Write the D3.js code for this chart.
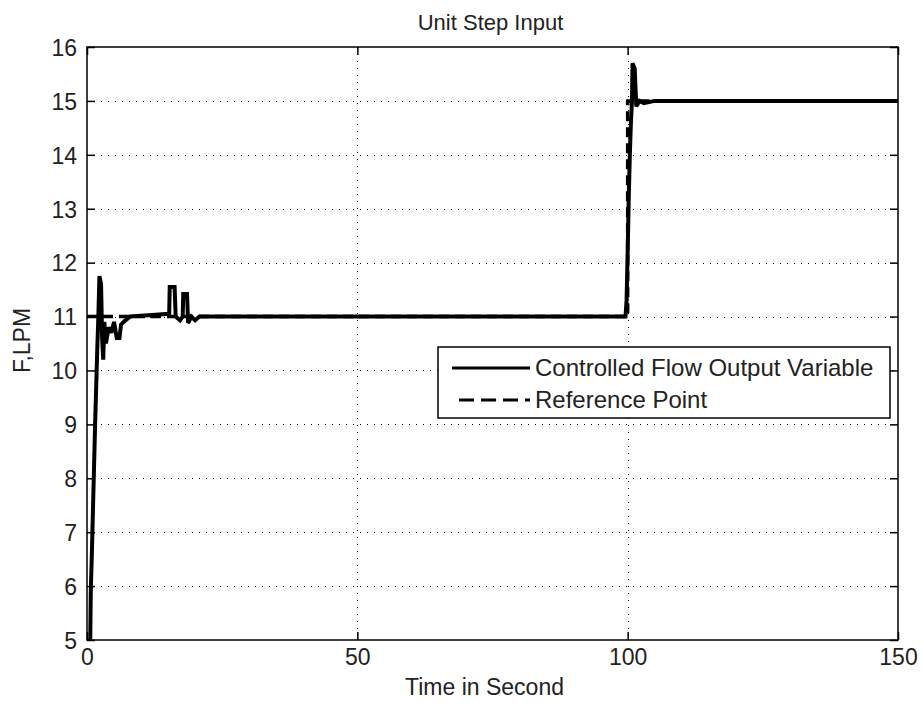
<!DOCTYPE html>
<html>
<head>
<meta charset="utf-8">
<script src="https://cdn.jsdelivr.net/npm/d3@7"></script>
<style>
  html, body { margin: 0; padding: 0; background: #fff; }
  svg { display: block; font-family: "Liberation Sans", Arial, sans-serif; }
</style>
</head>
<body>
<svg id="chart" width="922" height="703"></svg>
<script>
// Closed-loop flow response: [time (s), flow (LPM)]
const controlledFlow = [
  [0.0, 4.6], [0.6, 5.0], [0.7, 5.9], [0.9, 6.6], [1.1, 7.4], [1.3, 8.2], [1.5, 9.0],
  [1.7, 9.7], [1.9, 10.4], [2.1, 11.0], [2.3, 11.75], [2.6, 11.6], [2.8, 10.6],
  [3.0, 10.2], [3.2, 10.9], [3.5, 10.5], [4.0, 10.8], [4.5, 10.7], [5.0, 10.9],
  [5.5, 10.6], [6.0, 10.6], [6.3, 10.85], [7.0, 10.92], [8.0, 11.0], [12.0, 11.03],
  [15.2, 11.05], [15.3, 11.55], [16.2, 11.55], [16.4, 11.0], [17.2, 10.93], [17.7, 11.0],
  [17.8, 11.42], [18.5, 11.42], [18.7, 10.88], [19.3, 11.0], [20.0, 10.93], [20.8, 11.0],
  [22.0, 11.0], [99.6, 11.0], [99.8, 11.3], [100.0, 12.2], [100.2, 13.2], [100.4, 14.0],
  [100.6, 14.6], [100.8, 15.0], [100.9, 15.7], [101.3, 15.6], [101.6, 14.9],
  [102.2, 15.0], [103.0, 14.96], [105.0, 15.0], [150.0, 15.0]
];

// Set-point trajectory
const referencePoint = [[0, 11], [100, 11], [100, 15], [150, 15]];

const xTicks = [0, 50, 100, 150];
const yTicks = [5, 6, 7, 8, 9, 10, 11, 12, 13, 14, 15, 16];
const legendLabels = ["Controlled Flow Output Variable", "Reference Point"];

const svg = d3.select("#chart");
const pLeft = 87, pRight = 898, pTop = 47, pBottom = 640;
const textColor = "#222";
const fontSize = "23px";

const x = d3.scaleLinear().domain([0, 150]).range([pLeft, pRight]);
const y = d3.scaleLinear().domain([5, 16]).range([pBottom, pTop]);

svg.append("defs").append("clipPath").attr("id", "plotclip")
  .append("rect").attr("x", pLeft).attr("y", pTop)
  .attr("width", pRight - pLeft).attr("height", pBottom - pTop);

// dotted grid
const grid = svg.append("g").attr("stroke", "#000").attr("stroke-width", 1)
  .attr("stroke-dasharray", "1,6");
grid.selectAll(".gx").data(xTicks.slice(1, -1)).join("line")
  .attr("x1", d => Math.round(x(d)) + 0.5).attr("x2", d => Math.round(x(d)) + 0.5)
  .attr("y1", pTop).attr("y2", pBottom);
grid.selectAll(".gy").data(yTicks.slice(1, -1)).join("line")
  .attr("y1", d => Math.round(y(d)) + 0.5).attr("y2", d => Math.round(y(d)) + 0.5)
  .attr("x1", pLeft).attr("x2", pRight);

// axes with inward ticks on all four sides
const tickLen = 8;
const axB = svg.append("g").attr("transform", `translate(0,${pBottom})`)
  .call(d3.axisBottom(x).tickValues(xTicks).tickSize(-tickLen).tickPadding(9).tickFormat(d3.format("d")));
const axT = svg.append("g").attr("transform", `translate(0,${pTop})`)
  .call(d3.axisTop(x).tickValues(xTicks).tickSize(-tickLen).tickFormat(""));
const axL = svg.append("g").attr("transform", `translate(${pLeft},0)`)
  .call(d3.axisLeft(y).tickValues(yTicks).tickSize(-tickLen).tickPadding(10).tickFormat(d3.format("d")));
const axR = svg.append("g").attr("transform", `translate(${pRight},0)`)
  .call(d3.axisRight(y).tickValues(yTicks).tickSize(-tickLen).tickFormat(""));
[axB, axT, axL, axR].forEach(g => {
  g.select(".domain").remove();
  g.selectAll("line").attr("stroke", "#000").attr("stroke-width", 1.5);
  g.selectAll("text").attr("fill", textColor).style("font-size", fontSize)
    .style("font-family", "'Liberation Sans', Arial, sans-serif");
});
axL.selectAll("text").attr("dy", "0.36em");

// data lines
const line = d3.line().x(d => x(d[0])).y(d => y(d[1]));
const plot = svg.append("g").attr("clip-path", "url(#plotclip)");
plot.append("path").datum(referencePoint).attr("d", line)
  .attr("fill", "none").attr("stroke", "#000").attr("stroke-width", 3.5)
  .attr("stroke-dasharray", "10,6");
plot.append("path").datum(controlledFlow).attr("d", line)
  .attr("fill", "none").attr("stroke", "#000").attr("stroke-width", 4)
  .attr("stroke-linejoin", "miter").attr("stroke-miterlimit", 2);

// plot frame
svg.append("rect").attr("x", pLeft).attr("y", pTop)
  .attr("width", pRight - pLeft).attr("height", pBottom - pTop)
  .attr("fill", "none").attr("stroke", "#000").attr("stroke-width", 1.5);

// titles
svg.append("text").attr("x", (pLeft + pRight) / 2 - 2).attr("y", 30)
  .attr("text-anchor", "middle").style("font-size", "22px").attr("fill", textColor)
  .text("Unit Step Input");
svg.append("text").attr("x", (pLeft + pRight) / 2 - 8).attr("y", 695)
  .attr("text-anchor", "middle").style("font-size", fontSize).attr("fill", textColor)
  .text("Time in Second");
svg.append("text").attr("transform", `translate(30,${(pTop + pBottom) / 2 - 3}) rotate(-90)`)
  .attr("text-anchor", "middle").style("font-size", fontSize).attr("fill", textColor)
  .text("F,LPM");

// legend
const lg = svg.append("g");
lg.append("rect").attr("x", 438).attr("y", 347).attr("width", 452).attr("height", 71)
  .attr("fill", "#fff").attr("stroke", "#000").attr("stroke-width", 1.5);
const rows = [{ dash: null, yy: 368 }, { dash: "15,7", yy: 400 }];
rows.forEach((r, i) => {
  lg.append("line").attr("x1", r.dash ? 459 : 452).attr("x2", 530).attr("y1", r.yy).attr("y2", r.yy)
    .attr("stroke", "#000").attr("stroke-width", 3)
    .attr("stroke-dasharray", r.dash);
  lg.append("text").attr("x", 535).attr("y", r.yy + 8)
    .style("font-size", "24px").attr("fill", textColor).text(legendLabels[i]);
});
</script>
</body>
</html>
